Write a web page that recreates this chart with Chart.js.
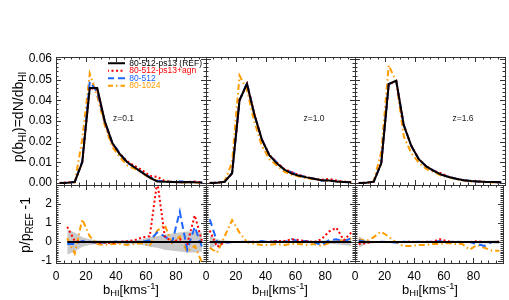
<!DOCTYPE html>
<html><head><meta charset="utf-8">
<script src="https://cdn.jsdelivr.net/npm/chart.js@4/dist/chart.umd.min.js"></script>
<style>
body{margin:0;background:#fff;}
#wrap{position:relative;width:509px;height:300px;overflow:hidden;font-family:"Liberation Sans",Arial,sans-serif;background:#fff;}
#wrap canvas{position:absolute;left:0;top:0;}
.t{position:absolute;white-space:nowrap;line-height:1;color:#000;}
.t sub{font-size:72%;vertical-align:-0.3em;line-height:0;}
.t sup{font-size:72%;vertical-align:0.45em;line-height:0;}
</style></head><body>
<div id="wrap">
<canvas id="c0" width="509" height="300"></canvas>
<canvas id="c1" width="509" height="300"></canvas>
<canvas id="c2" width="509" height="300"></canvas>
<canvas id="c3" width="509" height="300"></canvas>
<canvas id="c4" width="509" height="300"></canvas>
<canvas id="c5" width="509" height="300"></canvas>
<div class="t" style="left:18px;top:117px;font-size:14px;transform:translate(-50%,-50%) rotate(-90deg);">p(b<sub>HI</sub>)=dN/db<sub>HI</sub></div>
<div class="t" style="left:25px;top:225px;font-size:14px;transform:translate(-50%,-50%) rotate(-90deg);">p/p<sub>REF</sub> -1</div>
<div class="t" style="left:131px;top:289px;font-size:13px;transform:translate(-50%,-50%);">b<sub>HI</sub>[kms<sup>-1</sup>]</div>
<div class="t" style="left:280px;top:289px;font-size:13px;transform:translate(-50%,-50%);">b<sub>HI</sub>[kms<sup>-1</sup>]</div>
<div class="t" style="left:430px;top:289px;font-size:13px;transform:translate(-50%,-50%);">b<sub>HI</sub>[kms<sup>-1</sup>]</div>
</div>
<script>
// ---------------- data ----------------
const bins = [2.5, 7.5, 12.5, 17.5, 22.5, 27.5, 32.5, 37.5, 42.5, 47.5, 52.5, 57.5, 62.5, 67.5, 72.5, 77.5, 82.5, 87.5, 92.5, 97.5];
const seriesNames = ['80-512-ps13 (REF)', '80-512-ps13+agn', '80-512', '80-1024'];
const redshiftLabels = ['z=0.1', 'z=1.0', 'z=1.6'];
const xTickValues = [0, 20, 40, 60, 80];
const pdfTickValues = [0.00, 0.01, 0.02, 0.03, 0.04, 0.05, 0.06];
const ratioTickValues = [-1, 0, 1, 2];

// z = 0.1 : p(b) = dN/db
const pdfRef_z01  = [0, 0.0001, 0.0005, 0.0100, 0.0460, 0.0460, 0.0300, 0.0195, 0.0140, 0.0100, 0.0075, 0.0050, 0.0026, 0.0007, 0.0006, 0.0005, 0.0003, 0.0005, 0.0003, 0.0002];
const pdfAgn_z01  = [0, 0.0002, 0.0005, 0.0100, 0.0460, 0.0452, 0.0295, 0.0190, 0.0140, 0.0105, 0.0082, 0.0062, 0.0034, 0.0030, 0.0008, 0.0005, 0.0003, 0.0005, 0.0007, 0.0002];
const pdf512_z01  = [0, 0.0001, 0.0004, 0.0105, 0.0490, 0.0440, 0.0295, 0.0195, 0.0145, 0.0098, 0.0075, 0.0051, 0.0029, 0.0011, 0.0008, 0.0005, 0.0008, 0.0003, 0.0005, 0.00015];
const pdf1024_z01 = [0, 0.0001, 0.0002, 0.0210, 0.0530, 0.0420, 0.0280, 0.0175, 0.0125, 0.0085, 0.0068, 0.0048, 0.0022, 0.0011, 0.0011, 0.0005, 0.0004, 0.00025, 0.00025, 0.00002];
// z = 1.0
const pdfRef_z10  = [0, 0.0001, 0.0006, 0.0047, 0.0400, 0.0480, 0.0330, 0.0210, 0.0135, 0.0095, 0.0065, 0.0045, 0.0035, 0.0027, 0.0020, 0.0013, 0.0012, 0.0007, 0.0005, 0.0003];
const pdfAgn_z10  = [0, 0.00015, 0.0006, 0.0047, 0.0400, 0.0480, 0.0335, 0.0210, 0.0137, 0.0099, 0.0068, 0.0052, 0.0038, 0.0028, 0.0020, 0.0015, 0.0019, 0.0012, 0.00055, 0.00045];
const pdf512_z10  = [0, 0.0002, 0.0006, 0.0047, 0.0400, 0.0485, 0.0330, 0.0212, 0.0135, 0.0100, 0.0065, 0.0052, 0.0037, 0.0028, 0.0020, 0.0011, 0.0013, 0.0008, 0.0005, 0.00035];
const pdf1024_z10 = [0, 0.00005, 0.0008, 0.0100, 0.0520, 0.0450, 0.0295, 0.0180, 0.0115, 0.0085, 0.0055, 0.0040, 0.0031, 0.0023, 0.0018, 0.0010, 0.0011, 0.0007, 0.00055, 0.00035];
// z = 1.6
const pdfRef_z16  = [0, 0.0001, 0.0006, 0.0095, 0.0480, 0.0495, 0.0280, 0.0180, 0.0115, 0.0080, 0.0058, 0.0040, 0.0029, 0.0020, 0.0013, 0.0009, 0.0007, 0.0005, 0.0004, 0.0003];
const pdfAgn_z16  = [0, 0.0001, 0.0006, 0.0095, 0.0478, 0.0493, 0.0280, 0.0181, 0.0115, 0.0081, 0.0059, 0.0046, 0.0030, 0.0020, 0.0013, 0.0009, 0.00075, 0.0005, 0.0004, 0.0003];
const pdf512_z16  = [0, 0.0001, 0.0006, 0.0096, 0.0478, 0.0492, 0.0282, 0.0180, 0.0116, 0.0080, 0.0059, 0.0041, 0.0029, 0.0020, 0.0013, 0.0009, 0.0006, 0.0004, 0.0004, 0.0003];
const pdf1024_z16 = [0, 0.0001, 0.0008, 0.0150, 0.0570, 0.0490, 0.0225, 0.0145, 0.0098, 0.0068, 0.0052, 0.0036, 0.0027, 0.0018, 0.0012, 0.00055, 0.0006, 0.00035, 0.0002, 0.00016];

// ratios p/p_REF - 1
const ratioRef_z01  = [null, 0, 0, 0, 0, 0, 0, 0, 0, 0, 0, 0, 0, 0, 0, 0, 0, 0, 0, 0];
const ratioAgn_z01  = [null, 0.8, 0.05, 0.0, 0.0, -0.03, -0.03, -0.05, 0.0, 0.05, 0.1, 0.25, 0.3, 3.2, 0.3, 0.0, 0.15, -0.1, 1.4, 0.0];
const ratio512_z01  = [null, -0.1, -0.1, 0.05, 0.02, -0.05, -0.02, 0.0, 0.05, -0.02, 0.0, 0.02, 0.1, 0.5, 0.3, 0.0, 1.6, -0.4, 0.8, -0.3];
const ratio1024_z01 = [null, 0.2, -0.6, 1.2, 0.3, -0.1, -0.15, -0.1, -0.1, -0.15, -0.1, -0.05, -0.2, 0.6, 0.9, -0.1, 0.3, -0.5, -0.2, -1.1];
const bandHi_z01    = [null, 0.65, 0.5, 0.25, 0.15, 0.1, 0.08, 0.08, 0.08, 0.09, 0.1, 0.15, 0.25, 0.3, 0.4, 0.45, 0.5, 0.55, 0.55, 0.5];
const bandLo_z01    = [null, -0.65, -0.5, -0.25, -0.15, -0.1, -0.08, -0.08, -0.08, -0.09, -0.1, -0.15, -0.25, -0.3, -0.4, -0.45, -0.5, -0.55, -0.55, -0.5];

const ratioRef_z10  = [0, 0, 0, 0, 0, 0, 0, 0, 0, 0, 0, 0, 0, 0, 0, 0, 0, 0, 0, 0];
const ratioAgn_z10  = [0.6, -0.25, 0.0, 0.0, 0.0, 0.0, 0.02, 0.0, 0.02, 0.05, 0.05, 0.15, 0.1, 0.05, 0.0, 0.15, 0.55, 0.75, 0.1, 0.5];
const ratio512_z10  = [1.2, 0.0, -0.05, 0.0, 0.0, 0.02, 0.0, 0.05, 0.0, 0.05, 0.0, 0.15, 0.05, 0.05, 0.0, -0.15, 0.1, 0.15, 0.05, 0.2];
const ratio1024_z10 = [-0.3, -0.55, 0.3, 1.15, 0.5, 0.0, -0.1, -0.15, -0.15, -0.1, -0.15, -0.1, -0.1, -0.15, -0.1, -0.2, -0.05, 0.05, 0.1, 0.2];
const bandHi_z10    = [0.35, 0.15, 0.08, 0.05, 0.03, 0.03, 0.03, 0.03, 0.03, 0.03, 0.04, 0.04, 0.05, 0.06, 0.07, 0.08, 0.1, 0.12, 0.15, 0.2];
const bandLo_z10    = [-0.35, -0.15, -0.08, -0.05, -0.03, -0.03, -0.03, -0.03, -0.03, -0.03, -0.04, -0.04, -0.05, -0.06, -0.07, -0.08, -0.1, -0.12, -0.15, -0.2];

const ratioRef_z16  = [0, 0, 0, 0, 0, 0, 0, 0, 0, 0, 0, 0, 0, 0, 0, 0, 0, 0, 0, 0];
const ratioAgn_z16  = [-0.1, -0.05, 0.0, 0.0, 0.0, 0.0, 0.0, 0.02, 0.0, 0.02, 0.02, 0.15, 0.05, 0.0, 0.0, 0.0, 0.05, 0.0, 0.0, 0.02];
const ratio512_z16  = [0.1, 0.0, 0.0, 0.02, 0.0, -0.02, 0.02, 0.0, 0.02, 0.0, 0.02, 0.05, 0.0, 0.02, 0.0, 0.0, -0.1, -0.2, 0.0, 0.0];
const ratio1024_z16 = [0.15, 0.05, 0.25, 0.55, 0.3, 0.0, -0.2, -0.2, -0.15, -0.15, -0.1, -0.1, -0.05, -0.1, -0.1, -0.4, -0.15, -0.3, -0.45, -0.45];
const bandHi_z16    = [0.3, 0.1, 0.05, 0.03, 0.02, 0.02, 0.02, 0.02, 0.02, 0.02, 0.03, 0.03, 0.03, 0.04, 0.04, 0.05, 0.06, 0.07, 0.08, 0.1];
const bandLo_z16    = [-0.3, -0.1, -0.05, -0.03, -0.02, -0.02, -0.02, -0.02, -0.02, -0.02, -0.03, -0.03, -0.03, -0.04, -0.04, -0.05, -0.06, -0.07, -0.08, -0.1];

// ---------------- styles / layout ----------------
const FONT = "'Liberation Sans', Arial, Helvetica, sans-serif";
const STY = [
  {color: '#000000', width: 2, dash: []},
  {color: '#ff0000', width: 2, dash: [2, 2.5]},
  {color: '#1e64ff', width: 2, dash: [7, 4]},
  {color: '#ff9c00', width: 2, dash: [6, 3, 1.5, 3]}
];
const COLS = [56, 206, 355, 505];
const ROWS = {top: [57, 185], bot: [185, 263]};
const YW = 40, XH = 32;

function pts(vals) { return bins.map((b, i) => ({x: b, y: vals[i]})); }
function lineDs(label, vals, k) {
  return {label, data: pts(vals), borderColor: STY[k].color, backgroundColor: STY[k].color,
    borderWidth: STY[k].width, borderDash: STY[k].dash, pointRadius: 0, tension: 0, fill: false,
    spanGaps: false, borderCapStyle: 'butt', borderJoinStyle: 'miter'};
}

const frameTicks = {
  id: 'frameTicks',
  beforeDatasetsDraw(chart, args, o) {
    const ctx = chart.ctx, a = chart.chartArea, xs = chart.scales.x, ys = chart.scales.y;
    ctx.save();
    ctx.strokeStyle = '#333'; ctx.lineWidth = 1; ctx.setLineDash([]);
    ctx.beginPath();
    const each = (sc, step, fn) => {
      const start = Math.ceil((sc.min - 1e-12) / step);
      for (let i = start; i * step <= sc.max + 1e-12; i++) fn(sc.getPixelForValue(i * step));
    };
    const xt = len => p => { const px = Math.round(p) + 0.5;
      ctx.moveTo(px, a.bottom); ctx.lineTo(px, a.bottom - len);
      ctx.moveTo(px, a.top); ctx.lineTo(px, a.top + len); };
    const yt = len => p => { const py = Math.round(p) + 0.5;
      ctx.moveTo(a.left, py); ctx.lineTo(a.left + len, py);
      ctx.moveTo(a.right, py); ctx.lineTo(a.right - len, py); };
    each(xs, o.xMinor, xt(2.5)); each(xs, o.xMajor, xt(5));
    each(ys, o.yMinor, yt(2.5)); each(ys, o.yMajor, yt(5));
    ctx.stroke();
    ctx.strokeRect(Math.round(a.left) + 0.5, Math.round(a.top) + 0.5, Math.round(a.right - a.left), Math.round(a.bottom - a.top));
    ctx.restore();
  },
  afterDatasetsDraw(chart, args, o) {
    if (!o.label) return;
    const ctx = chart.ctx;
    ctx.save();
    ctx.font = '8.5px ' + FONT; ctx.fillStyle = '#222'; ctx.textAlign = 'center'; ctx.textBaseline = 'middle';
    ctx.fillText(o.label, chart.scales.x.getPixelForValue(o.lx), chart.scales.y.getPixelForValue(o.ly));
    ctx.restore();
  }
};

const legendShift = {
  id: 'legendShift',
  afterLayout(chart, args, o) {
    const lg = chart.legend; if (!lg) return;
    const a = chart.chartArea;
    const w = lg.right - lg.left, h = lg.bottom - lg.top;
    lg.left = a.left + o.dx; lg.top = a.top + o.dy; lg.right = lg.left + w; lg.bottom = lg.top + h;
  }
};

function makeChart(id, col, row, datasets, yCfg, label, withLegend) {
  const L = COLS[col], R = COLS[col + 1], T = ROWS[row][0], B = ROWS[row][1];
  const tickFont = {family: FONT, size: 12};
  return new Chart(document.getElementById(id), {
    type: 'line',
    data: {datasets},
    options: {
      responsive: false, animation: false, devicePixelRatio: 1,
      layout: {autoPadding: false, padding: {left: L - YW, right: 509 - R, top: T, bottom: 300 - B - XH}},
      plugins: {
        tooltip: {enabled: false},
        legend: withLegend ? {
          display: true, position: 'chartArea', align: 'start',
          labels: {
            usePointStyle: true, pointStyle: 'line', pointStyleWidth: 18, boxHeight: 8, padding: -1,
            font: {family: FONT, size: 8.5},
            generateLabels(ch) {
              return ch.data.datasets.map((ds, i) => ({
                text: ds.label, fontColor: ds.borderColor, strokeStyle: ds.borderColor, fillStyle: ds.borderColor,
                lineWidth: ds.borderWidth, lineDash: ds.borderDash, lineCap: 'butt', pointStyle: 'line',
                hidden: false, datasetIndex: i, textAlign: 'left'
              }));
            }
          }
        } : {display: false},
        legendShift: {dx: 52, dy: 3},
        frameTicks: Object.assign({xMinor: 5, xMajor: 20}, yCfg.frame, label ? {label, lx: yCfg.lx, ly: yCfg.ly} : {})
      },
      scales: {
        x: {
          type: 'linear', min: 0, max: 100,
          grid: {display: false, drawTicks: false}, border: {display: false},
          ticks: {display: row === 'bot', stepSize: 20, padding: 6, font: tickFont, color: '#000', autoSkip: false,
            callback: v => (xTickValues.includes(v) ? String(v) : '')},
          afterFit: s => { s.height = XH; }
        },
        y: {
          type: 'linear', min: yCfg.min, max: yCfg.max,
          grid: {display: false, drawTicks: false}, border: {display: false},
          ticks: {display: col === 0, stepSize: yCfg.step, includeBounds: false, padding: 4, font: tickFont, color: '#000', autoSkip: false,
            callback: yCfg.fmt},
          afterFit: s => { s.width = YW; }
        }
      }
    },
    plugins: withLegend ? [frameTicks, legendShift] : [frameTicks]
  });
}

const topY = {min: -0.001, max: 0.061, step: 0.01, lx: 0, ly: 0.031,
  fmt: v => { const f = v.toFixed(2); return pdfTickValues.some(t => t.toFixed(2) === f) ? f : ''; },
  frame: {yMinor: 0.002, yMajor: 0.01}};
const botY = {min: -1.1, max: 3, step: 1,
  fmt: v => (ratioTickValues.includes(Math.round(v)) ? String(Math.round(v)) : ''),
  frame: {yMinor: 0.1, yMajor: 1}};

const topSets = [
  [pdfRef_z01, pdfAgn_z01, pdf512_z01, pdf1024_z01],
  [pdfRef_z10, pdfAgn_z10, pdf512_z10, pdf1024_z10],
  [pdfRef_z16, pdfAgn_z16, pdf512_z16, pdf1024_z16]
];
const botSets = [
  [ratioRef_z01, ratioAgn_z01, ratio512_z01, ratio1024_z01, bandHi_z01, bandLo_z01],
  [ratioRef_z10, ratioAgn_z10, ratio512_z10, ratio1024_z10, bandHi_z10, bandLo_z10],
  [ratioRef_z16, ratioAgn_z16, ratio512_z16, ratio1024_z16, bandHi_z16, bandLo_z16]
];
const labelX = [45, 72.5, 72];

for (let c = 0; c < 3; c++) {
  const ds = topSets[c].map((vals, k) => lineDs(seriesNames[k], vals, k));
  makeChart('c' + c, c, 'top', ds, Object.assign({}, topY, {lx: labelX[c]}), redshiftLabels[c], c === 0);
}
for (let c = 0; c < 3; c++) {
  const s = botSets[c];
  const ds = s.slice(0, 4).map((vals, k) => lineDs(seriesNames[k], vals, k));
  ds.push({label: 'scatter band', data: pts(s[4]), borderWidth: 0, borderColor: 'rgba(0,0,0,0)', backgroundColor: '#c9c9c9', pointRadius: 0, fill: '+1', tension: 0});
  ds.push({label: 'scatter band low', data: pts(s[5]), borderWidth: 0, borderColor: 'rgba(0,0,0,0)', backgroundColor: '#c9c9c9', pointRadius: 0, fill: false, tension: 0});
  makeChart('c' + (c + 3), c, 'bot', ds, botY, null, false);
}
</script>
</body></html>
